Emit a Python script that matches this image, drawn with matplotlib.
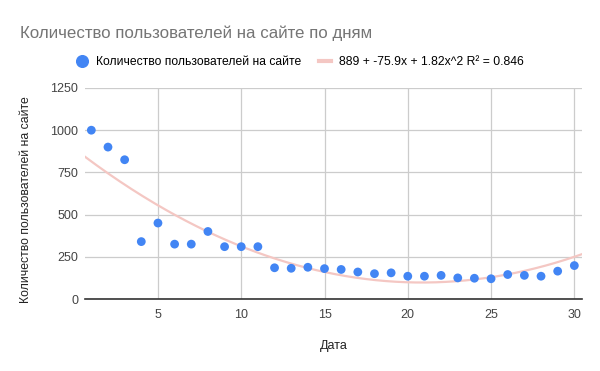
import numpy as np
import matplotlib
matplotlib.use("Agg")
import matplotlib.pyplot as plt
from matplotlib.lines import Line2D

plt.rcParams['font.family'] = ['Liberation Sans', 'DejaVu Sans']

# data
days = list(range(1, 31))
users = [1000, 900, 825, 340, 450, 325, 325, 400, 310, 310,
         310, 185, 182, 188, 180, 175, 160, 150, 155, 135,
         135, 140, 125, 123, 120, 145, 140, 135, 165, 198]
trend_coef = [1.82, -75.9, 889]  # x^2, x, const
trend_label = "889 + -75.9x + 1.82x^2 R\u00b2 = 0.846"
series_label = "Количество пользователей на сайте"
title = "Количество пользователей на сайте по дням"
yticks = [0, 250, 500, 750, 1000, 1250]
xticks = [5, 10, 15, 20, 25, 30]

W, H = 600, 371
fig = plt.figure(figsize=(W / 100, H / 100), dpi=100)
ax = fig.add_axes([85 / W, 1 - 299 / H, (582 - 85) / W, (299 - 88) / H])

xmin, xmax = 0.62, 30.46
xs = np.linspace(xmin, xmax, 300)
ax.plot(xs, np.polyval(trend_coef, xs), color="#f4c7c3", lw=1.6, zorder=2)
ax.scatter(days, users, s=40, color="#4285f4", edgecolors="none", zorder=3)

ax.set_xlim(xmin, xmax)
ax.set_ylim(0, 1250)
ax.set_xticks(xticks)
ax.set_yticks(yticks)
ax.grid(True, color="#cccccc", lw=0.9)
ax.set_axisbelow(True)
for s in ["top", "right", "left"]:
    ax.spines[s].set_visible(False)
ax.spines["bottom"].set_color("#333333")
ax.spines["bottom"].set_linewidth(1.2)
ax.spines["bottom"].set_zorder(4)
ax.tick_params(axis="y", length=0, labelsize=9, labelcolor="#444444", pad=5)
ax.tick_params(axis="x", length=0, labelsize=9, labelcolor="#444444", pad=7)

ax.set_xlabel("Дата", fontsize=9, color="#222222", labelpad=14)
ax.set_ylabel(series_label, fontsize=8.8, color="#222222")
ax.yaxis.set_label_coords(-(85 - 32) / (582 - 85), 0.47)

fig.text(20 / W, 1 - 33 / H, title, fontsize=12.2, color="#757575", va="center")

handles = [
    Line2D([], [], marker="o", ls="none", color="#4285f4", markersize=8.4),
    Line2D([], [], color="#f4c7c3", lw=3),
]
fig.legend(handles, [series_label, trend_label], ncol=2, frameon=False,
           loc="center", bbox_to_anchor=(0.5, 1 - 62 / H), fontsize=8.75,
           handlelength=1.0, handletextpad=0.7, columnspacing=1.4)

fig.savefig("out.png", dpi=100)
